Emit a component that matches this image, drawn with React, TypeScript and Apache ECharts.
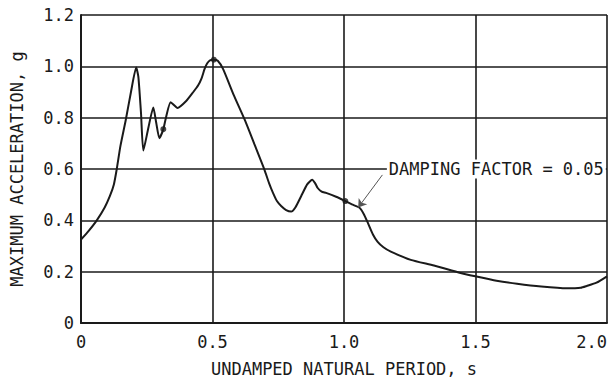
import React, { useEffect, useRef } from "react";
import * as echarts from "echarts";

const periods: number[] = [
  0, 0.03, 0.06, 0.09, 0.11, 0.125, 0.136, 0.15, 0.17, 0.19, 0.21, 0.218, 0.228, 0.237,
  0.256, 0.275, 0.286, 0.298, 0.313, 0.323, 0.341, 0.367, 0.4, 0.427, 0.445, 0.458,
  0.47, 0.48, 0.492, 0.505, 0.52, 0.54, 0.58, 0.622, 0.66, 0.698, 0.715, 0.73, 0.745,
  0.761, 0.78, 0.799, 0.815, 0.837, 0.86, 0.879, 0.89, 0.9, 0.915, 0.932, 0.97, 1.005,
  1.03, 1.058, 1.075, 1.09, 1.11, 1.128, 1.15, 1.178, 1.254, 1.342, 1.443, 1.5, 1.58,
  1.658, 1.75, 1.847, 1.9, 1.923, 1.96, 2.0,
];
const accels: number[] = [
  0.325, 0.36, 0.4, 0.45, 0.495, 0.54, 0.6, 0.69, 0.79, 0.9, 0.995, 0.96, 0.82, 0.672,
  0.76, 0.84, 0.78, 0.72, 0.755, 0.8, 0.86, 0.838, 0.865, 0.9, 0.925, 0.952,
  0.99, 1.012, 1.024, 1.026, 1.022, 0.99, 0.89, 0.793, 0.695, 0.596, 0.545, 0.507, 0.475,
  0.456, 0.44, 0.434, 0.45, 0.494, 0.54, 0.558, 0.545, 0.526, 0.512, 0.507, 0.492, 0.475,
  0.462, 0.45, 0.425, 0.392, 0.345, 0.316, 0.295, 0.278, 0.246, 0.224, 0.195, 0.182, 0.165,
  0.153, 0.142, 0.135, 0.137, 0.144, 0.157, 0.182,
];
const markerPeriods: number[] = [0.313, 0.505, 1.005];
const markerAccels: number[] = [0.755, 1.026, 0.475];

const annotationText = "DAMPING FACTOR = 0.05";
const annotationAnchor: [number, number] = [1.163, 0.6];
const arrowFrom: [number, number] = [1.146, 0.577];
const arrowTo: [number, number] = [1.054, 0.45];

const xTitle = "UNDAMPED NATURAL PERIOD, s";
const yTitle = "MAXIMUM ACCELERATION, g";

const FONT = "DejaVu Sans Mono";
const INK = "#1a1a1a";

export default function App() {
  const ref = useRef<HTMLDivElement>(null);
  useEffect(() => {
    document.body.style.margin = "0";
    const chart = echarts.init(ref.current!, null, { renderer: "svg" });
    const fmt = (v: number) => (v === 0 ? "0" : v.toFixed(1));
    chart.setOption({
      animation: false,
      backgroundColor: "#fff",
      grid: { left: 79, right: 7, top: 15, bottom: 53 },
      xAxis: {
        type: "value",
        min: 0,
        max: 2,
        interval: 0.5,
        name: xTitle,
        nameLocation: "middle",
        nameGap: 37,
        nameTextStyle: { fontFamily: FONT, fontSize: 17, color: INK },
        axisLine: { show: true, onZero: false, lineStyle: { color: INK, width: 2 } },
        axisTick: { show: false },
        axisLabel: {
          fontFamily: FONT,
          fontSize: 17,
          color: INK,
          margin: 10,
          formatter: fmt,
          alignMaxLabel: "right",
        },
        splitLine: { show: true, lineStyle: { color: INK, width: 1.6 } },
      },
      yAxis: {
        type: "value",
        min: 0,
        max: 1.2,
        interval: 0.2,
        name: yTitle,
        nameLocation: "middle",
        nameGap: 56,
        nameTextStyle: { fontFamily: FONT, fontSize: 17, color: INK },
        axisLine: { show: true, lineStyle: { color: INK, width: 2 } },
        axisTick: { show: false },
        axisLabel: { fontFamily: FONT, fontSize: 17, color: INK, margin: 7, formatter: fmt },
        splitLine: { show: true, lineStyle: { color: INK, width: 1.6 } },
      },
      series: [
        {
          type: "line",
          data: periods.map((p, i) => [p, accels[i]]),
          showSymbol: false,
          smooth: 0.2,
          lineStyle: { color: INK, width: 2 },
          markLine: {
            silent: true,
            symbol: ["none", "arrow"],
            symbolSize: 8,
            label: { show: false },
            lineStyle: { color: "#555", width: 1, type: "solid" },
            data: [[{ coord: arrowFrom }, { coord: arrowTo }]],
          },
        },
        {
          type: "scatter",
          data: markerPeriods.map((p, i) => [p, markerAccels[i]]),
          symbolSize: 6,
          itemStyle: { color: INK },
          z: 3,
        },
      ],
    });
    const pos = chart.convertToPixel({ gridIndex: 0 }, annotationAnchor) as number[];
    chart.setOption({
      graphic: [
        {
          type: "text",
          x: pos[0],
          y: pos[1],
          z: 100,
          style: {
            text: annotationText,
            fontFamily: FONT,
            fontSize: 17,
            fill: INK,
            backgroundColor: "#fff",
            padding: [1, 2],
            verticalAlign: "middle",
            align: "left",
          },
        },
      ],
    });
    return () => chart.dispose();
  }, []);
  return <div ref={ref} style={{ width: 614, height: 382 }} />;
}
